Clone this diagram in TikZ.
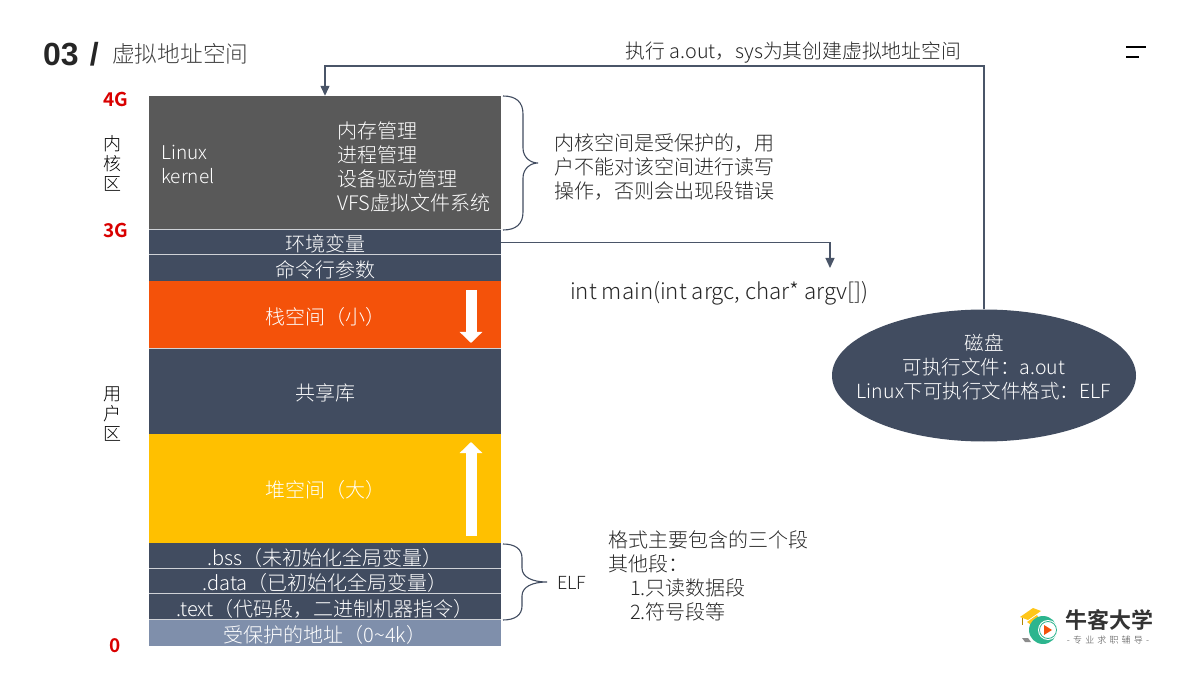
\documentclass[tikz,border=0pt]{standalone}
\usepackage{fontspec}
\setmainfont{Noto Sans CJK SC}[UprightFont=* Light,BoldFont=* Bold]
\newfontfamily\titlefont{Liberation Sans}
\usepackage{xcolor}
\usetikzlibrary{arrows.meta,positioning,shapes.geometric,calc}
\definecolor{slatebg}{HTML}{414C60}
\definecolor{kernelbg}{HTML}{595959}
\definecolor{stackbg}{HTML}{F4520A}
\definecolor{heapbg}{HTML}{FFC000}
\definecolor{guardbg}{HTML}{7F8FAB}
\definecolor{logoteal}{HTML}{2DB58E}
\newcommand{\txt}[2]{\fontsize{#1}{#2}\selectfont}
\tikzset{
  band/.style={text=white, minimum width=352pt, inner sep=0pt, text height=18.5pt, text depth=0pt, font=\txt{20}{24}},
  seam/.style={draw=white!75!slatebg, line width=0.8pt},
  addr/.style={text=red!85!black, font=\txt{19}{24}\bfseries},
  plain/.style={text=black!85, align=left, inner sep=0pt, font=\txt{20}{24}},
  zone/.style={align=center, inner sep=0pt, font=\txt{18}{20}, text=black},
  link/.style={draw=slatebg!95!white, line width=1.3pt, -{Triangle[width=9pt,length=10pt]}},
  curly/.style={draw=slatebg, line width=1.1pt},
  fat/.style={draw=white, line width=11pt, -{Triangle[width=22pt,length=11pt]}}
}
\begin{document}
\begin{tikzpicture}[x=1pt,y=-1pt]
    \useasboundingbox (0,0) rectangle (1200,676);
    % title
    \node[anchor=west, inner sep=0pt, font=\titlefont\bfseries\txt{32}{36}, text=black!85] (num) at (43,54) {03\hspace{11pt}/};
    \node[anchor=west, inner sep=0pt, font=\txt{22.7}{26}, text=black!75] (title) at (112,54) {虚拟地址空间};
    % memory bands
    \node[band, fill=kernelbg, minimum height=134pt] (kernel) at (325,163) {};
    \node[band, fill=slatebg, minimum height=25pt] (env) at (325,242.5) {环境变量};
    \node[band, fill=slatebg, minimum height=26pt] (args) at (325,268) {命令行参数};
    \node[band, fill=stackbg, minimum height=68pt] (stack) at (325,315) {栈空间（小）};
    \node[band, fill=slatebg, minimum height=85pt] (shared) at (325,391.5) {共享库};
    \node[band, fill=heapbg, minimum height=109pt] (heap) at (325,488.5) {堆空间（大）};
    \node[band, fill=slatebg, minimum height=26pt] (bss) at (325,556) {.bss（未初始化全局变量）};
    \node[band, fill=slatebg, minimum height=25pt] (data) at (325,581.5) {.data（已初始化全局变量）};
    \node[band, fill=slatebg, minimum height=26pt] (textseg) at (325,607) {.text（代码段，二进制机器指令）};
    \node[band, fill=guardbg, minimum height=26pt] (guard) at (325,633) {受保护的地址（0\textasciitilde 4k）};
    \draw[seam] (env.north west) -- (env.north east) (args.north west) -- (args.north east) (shared.north west) -- (shared.north east) (data.north west) -- (data.north east) (textseg.north west) -- (textseg.north east) (guard.north west) -- (guard.north east);
    \node[anchor=west, align=left, inner sep=0pt, text=white, font=\txt{19}{24}] (linux) at (161,164) {Linux\\kernel};
    \node[anchor=west, align=left, inner sep=0pt, text=white, font=\txt{20}{24}] (mods) at (337,167) {内存管理\\进程管理\\设备驱动管理\\VFS虚拟文件系统};
    % address marks
    \node[addr] (g4) at (116,99) {4G};
    \node[addr] (g3) at (116,230) {3G};
    \node[addr] (g0) at (115,646) {0};
    \node[zone] (kzone) at (112,163) {内\\核\\区};
    \node[zone] (uzone) at (112,414) {用\\户\\区};
    % disk
    \node[fill=slatebg, ellipse, minimum width=304pt, minimum height=132pt, inner sep=0pt] (disk) at (984,375.5) {};
    \node[align=center, inner sep=0pt, text=white, font=\txt{19.5}{24}] (disktext) at ($(disk)+(0,-8)$) {磁盘\\可执行文件：a.out\\Linux下可执行文件格式：ELF};
    % notes
    \node[plain, anchor=west] (kernote) at (554,167) {内核空间是受保护的，用\\户不能对该空间进行读写\\操作，否则会出现段错误};
    \node[plain, anchor=west, font=\txt{22.3}{24}] (mainsig) at (570,293.5) {int main(int argc, char* argv[])};
    \node[plain, anchor=center, font=\txt{19.8}{24}] (exec) at (793.5,53) {执行 a.out，sys为其创建虚拟地址空间};
    \node[plain, anchor=west, font=\txt{18}{24}] (elf) at (557,583) {ELF};
    \node[plain, anchor=west] (elfnote) at (608,576) {格式主要包含的三个段\\其他段：\\\hspace{22pt}1.只读数据段\\\hspace{22pt}2.符号段等};
    % connectors
    \coordinate (turn) at (984,66);
    \coordinate (argvtip) at (830,268);
    \draw[link] (disk.north) -- (turn) -| (kernel.north);
    \draw[link] (env.east) -| (argvtip);
    % braces
    \coordinate (kertip) at (538,163);
    \coordinate (elftip) at (547,582);
    \draw[curly] (503,96) .. controls (516,96) and (523,102) .. (523,114) -- (523,148) .. controls (523,157) and (530,163) .. (kertip) .. controls (530,163) and (523,169) .. (523,178) -- (523,212) .. controls (523,224) and (516,230) .. (503,230);
    \draw[curly] (503,544) .. controls (515,544) and (522,549) .. (522,558) -- (522,568) .. controls (522,577) and (532,582) .. (elftip) .. controls (532,582) and (522,587) .. (522,596) -- (522,606) .. controls (522,615) and (515,620) .. (503,620);
    % white arrows
    \coordinate (dntop) at (471,290);
    \coordinate (dnend) at (471,343);
    \coordinate (uptop) at (471,442);
    \coordinate (upend) at (471,536);
    \draw[fat] (dntop) -- (dnend);
    \draw[fat] (upend) -- (uptop);
    % menu mark
    \draw[black, line width=1.3pt] (1126,47) -- (1146,47) (1126,57) -- (1139,57);
    % logo
    \fill[heapbg!90!white] (1020,617) -- (1033,608) -- (1041,611) -- (1028,620) -- cycle;
    \fill[heapbg!90!white] (1027,622) -- (1037,615) -- (1039,619) -- (1031,625) -- cycle;
    \draw[heapbg!70!black, line width=0.7pt] (1022,618) -- (1022,625);
    \fill[logoteal] (1043,630) circle (14pt);
    \fill[white] (1048,630) circle (10pt);
    \draw[logoteal, line width=0.8pt] (1048,630) circle (8.5pt);
    \fill[stackbg] (1044,625) -- (1052,630) -- (1044,635) -- cycle;
    \fill[black!45] (1022,638) -- (1028,638) -- (1031,642) -- (1025,642) -- cycle;
    \node[anchor=west, inner sep=0pt, font=\txt{22}{24}\bfseries, text=black!80] (brand) at (1065,620) {牛客大学};
    \node[anchor=center, inner sep=0pt, font=\txt{9}{10}\addfontfeature{LetterSpace=35}, text=black!70] (slogan) at (1108,640) {-专业求职辅导-};
\end{tikzpicture}
\end{document}
